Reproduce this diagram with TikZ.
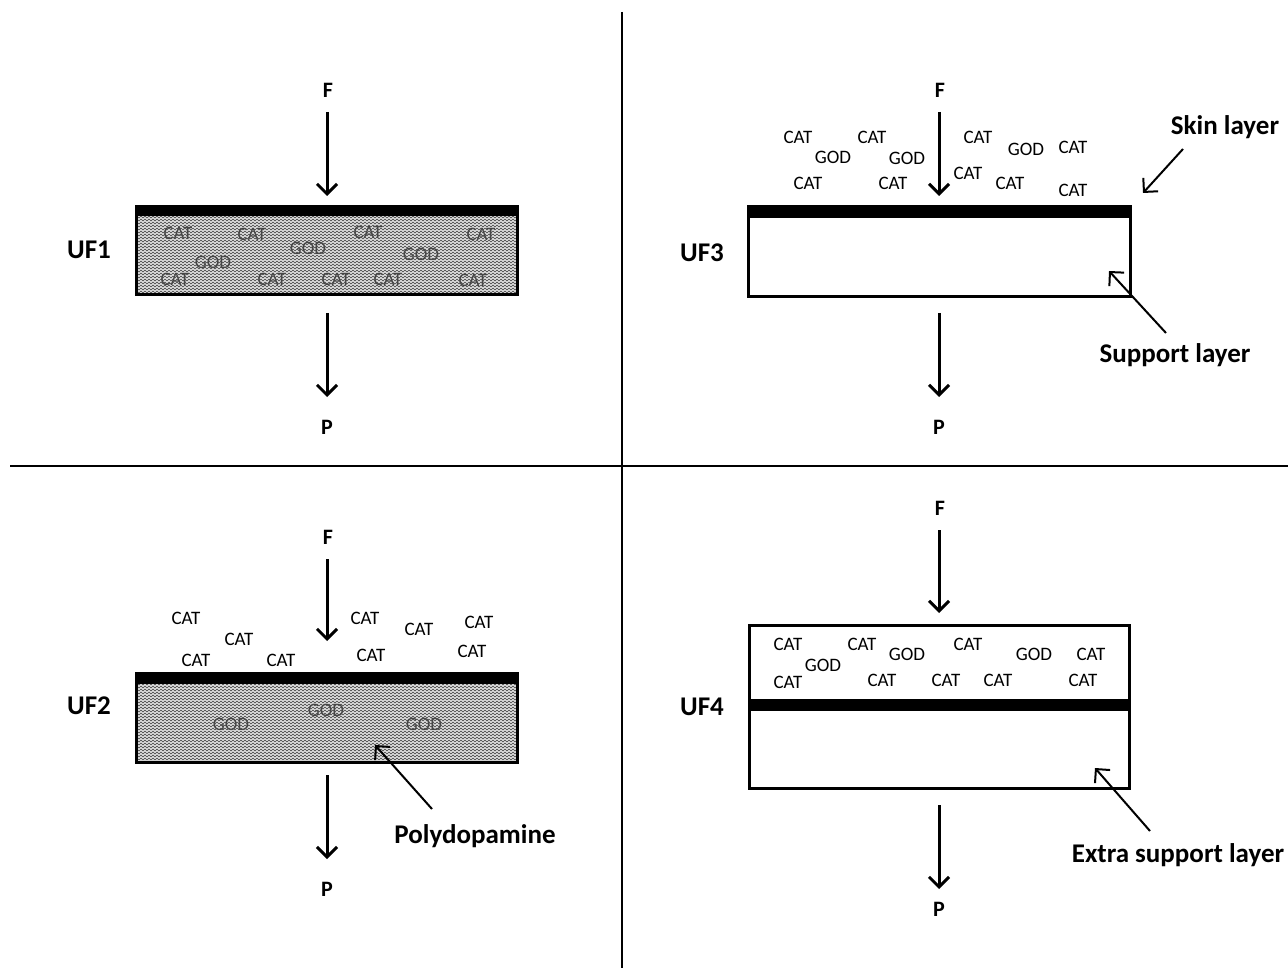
\documentclass[tikz,border=0pt]{standalone}
\usepackage{fontspec}
\setmainfont{Carlito}
\usetikzlibrary{arrows.meta,decorations.pathmorphing}
\tikzset{
  lab/.style={font=\fontsize{19}{19}\selectfont, inner sep=0pt},
  inlab/.style={lab, text=black!72},
  big/.style={font=\bfseries\fontsize{27}{27}\selectfont, inner sep=0pt},
  fp/.style={font=\bfseries\fontsize{22}{22}\selectfont, inner sep=0pt},
  flow/.style={line width=3pt, -{Straight Barb[length=10pt,width=20pt]}},
  pointer/.style={line width=2pt, -{Straight Barb[length=10pt,width=20pt]}},
  outline/.style={line width=3pt},
  band/.style={fill=black},
  divider/.style={line width=1.2pt},
  wave/.style={black!75, line width=0.55pt, decorate, decoration={zigzag, segment length=4pt, amplitude=1pt}}
}
\newcommand{\hatchbox}[4]{%
  \begin{scope}
    \clip (#1,#2) rectangle (#3,#4);
    \fill[gray!25] (#1,#2) rectangle (#3,#4);
    \foreach \yy in {#2,\the\numexpr#2+3\relax,...,#4}
      \draw[wave] (#1-4,\yy) -- (#3+4,\yy);
  \end{scope}}
\begin{document}
\begin{tikzpicture}[x=1pt,y=-1pt]
\useasboundingbox (0,0) rectangle (1288,968);
\fill[white] (0,0) rectangle (1288,968);
% dividers
\coordinate (vt) at (622,12); \coordinate (vb) at (622,968);
\coordinate (hl) at (10,466); \coordinate (hr) at (1288,466);
\draw[divider] (vt) -- (vb);
\draw[divider] (hl) -- (hr);

% ================= UF1 =================
\hatchbox{136}{214}{517}{295}
\foreach \x/\y/\t [count=\i] in {178/233/CAT,252/234/CAT,308/248/GOD,368/232/CAT,481/234/CAT,213/262/GOD,421/254/GOD,175/279/CAT,272/279/CAT,336/279/CAT,388/279/CAT,473/280/CAT}
  \node[inlab] (ua\i) at (\x,\y) {\t};
\fill[band] (136,207) rectangle (517,216);
\draw[outline] (136,207) rectangle (517,295);
\node[big] (uf1) at (89,250) {UF1};
\node[fp] (f1) at (328,90) {F};
\node[fp] (p1) at (327,427) {P};
\coordinate (f1s) at (327,112); \coordinate (f1e) at (327,196);
\coordinate (p1s) at (327,313); \coordinate (p1e) at (327,397);
\draw[flow] (f1s) -- (f1e);
\draw[flow] (p1s) -- (p1e);

% ================= UF3 =================
\fill[band] (748,207) rectangle (1130,218);
\draw[outline] (748,207) rectangle (1130,297);
\foreach \x/\y/\t [count=\i] in {798/137/CAT,872/137/CAT,833/157/GOD,907/158/GOD,808/183/CAT,893/183/CAT,978/137/CAT,1026/149/GOD,1073/147/CAT,968/173/CAT,1010/183/CAT,1073/190/CAT}
  \node[lab] (uc\i) at (\x,\y) {\t};
\node[big] (uf3) at (702,253) {UF3};
\node[fp] (f3) at (940,90) {F};
\node[fp] (p3) at (939,427) {P};
\coordinate (f3s) at (939,112); \coordinate (f3e) at (939,196);
\coordinate (p3s) at (939,313); \coordinate (p3e) at (939,397);
\draw[flow] (f3s) -- (f3e);
\draw[flow] (p3s) -- (p3e);
\node[big] (skin) at (1225,127) {Skin layer};
\coordinate (skins) at (1183,149); \coordinate (skine) at (1143,193);
\draw[pointer] (skins) -- (skine);
\node[big] (supp) at (1175,355) {Support layer};
\coordinate (supps) at (1166,333); \coordinate (suppe) at (1109,271);
\draw[pointer] (supps) -- (suppe);

% ================= UF2 =================
\hatchbox{136}{681}{517}{762}
\foreach \x/\y/\t [count=\i] in {231/724/GOD,326/710/GOD,424/724/GOD}
  \node[inlab] (ub\i) at (\x,\y) {\t};
\fill[band] (136,673) rectangle (517,684);
\draw[outline] (136,673) rectangle (517,762);
\foreach \x/\y/\t [count=\i] in {186/618/CAT,239/639/CAT,196/660/CAT,281/660/CAT,365/618/CAT,371/655/CAT,419/629/CAT,479/622/CAT,472/651/CAT}
  \node[lab] (ubt\i) at (\x,\y) {\t};
\node[big] (uf2) at (89,706) {UF2};
\node[fp] (f2) at (328,537) {F};
\node[fp] (p2) at (327,889) {P};
\coordinate (f2s) at (327,559); \coordinate (f2e) at (327,641);
\coordinate (p2s) at (327,775); \coordinate (p2e) at (327,859);
\draw[flow] (f2s) -- (f2e);
\draw[flow] (p2s) -- (p2e);
\node[big] (poly) at (475,836) {Polydopamine};
\coordinate (polys) at (432,809); \coordinate (polye) at (375,745);
\draw[pointer] (polys) -- (polye);

% ================= UF4 =================
\draw[outline] (749,625) rectangle (1129,788);
\fill[band] (749,699) rectangle (1129,711);
\foreach \x/\y/\t [count=\i] in {788/644/CAT,862/644/CAT,907/654/GOD,968/644/CAT,1034/654/GOD,1091/654/CAT,823/665/GOD,788/682/CAT,882/680/CAT,946/680/CAT,998/680/CAT,1083/680/CAT}
  \node[lab] (ud\i) at (\x,\y) {\t};
\node[big] (uf4) at (702,707) {UF4};
\node[fp] (f4) at (940,508) {F};
\node[fp] (p4) at (939,909) {P};
\coordinate (f4s) at (939,530); \coordinate (f4e) at (939,613);
\coordinate (p4s) at (939,805); \coordinate (p4e) at (939,889);
\draw[flow] (f4s) -- (f4e);
\draw[flow] (p4s) -- (p4e);
\node[big] (extra) at (1178,855) {Extra support layer};
\coordinate (extras) at (1150,831); \coordinate (extrae) at (1095,768);
\draw[pointer] (extras) -- (extrae);
\end{tikzpicture}
\end{document}
